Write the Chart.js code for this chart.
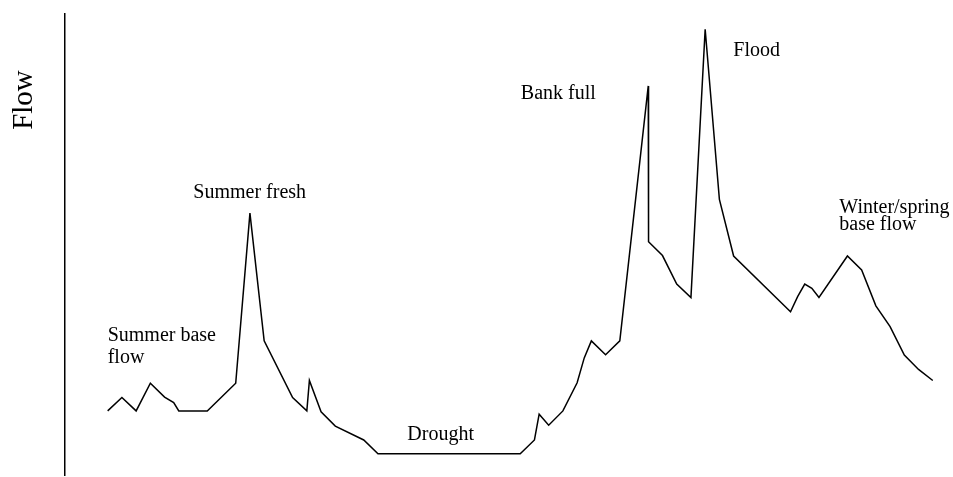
<!DOCTYPE html>
<html>
<head>
<meta charset="utf-8">
<script src="https://cdn.jsdelivr.net/npm/chart.js"></script>
<style>
  html, body { margin: 0; padding: 0; background: #fff; }
  #wrap { width: 953px; height: 477px; position: relative; }
</style>
</head>
<body>
<div id="wrap"><canvas id="flowChart"></canvas></div>
<script>
var steps = [0, 1, 2, 3, 4, 4.64, 5, 7, 9, 10, 11, 13, 14, 14.18, 15, 16, 18, 19,
  29, 30, 30.33, 31, 32, 33, 33.5, 34, 35, 36, 38, 38.02, 39, 40, 41, 42, 43, 44,
  48, 48.5, 49, 49.5, 50, 52, 53, 54, 55, 56, 57, 58];
var flows = [13.9, 16.8, 13.9, 19.9, 16.9, 15.7, 13.9, 13.9, 19.9, 56.8, 29.1, 16.8, 13.9, 20.5, 13.7, 10.6, 7.6, 4.6,
  4.6, 7.6, 13.2, 10.8, 13.9, 20.0, 25.4, 29.1, 26.1, 29.1, 84.4, 50.6, 47.6, 41.4, 38.5, 96.7, 59.8, 47.5,
  35.4, 38.7, 41.4, 40.5, 38.5, 47.5, 44.5, 36.7, 32.2, 26.0, 22.9, 20.5];

// annotation labels
var noteLabels = [
  ['Summer base', 'flow'],
  ['Summer fresh'],
  ['Drought'],
  ['Bank full'],
  ['Flood'],
  ['Winter/spring', 'base flow']
];
// where each label sits, in chart units (left edge, first baseline) and line spacing
var notePos = [
  { x: 0, y: 29.1, lh: 22 },
  { x: 6.02, y: 60.0, lh: 22 },
  { x: 21.06, y: 7.7, lh: 22 },
  { x: 29.04, y: 81.6, lh: 22 },
  { x: 43.98, y: 90.9, lh: 22 },
  { x: 51.43, y: 56.9, lh: 17 }
];

var serif = "'Liberation Serif', 'Times New Roman', serif";

var notesPlugin = {
  id: 'notes',
  afterDatasetsDraw: function (chart) {
    var ctx = chart.ctx;
    var xs = chart.scales.x, ys = chart.scales.y;
    ctx.save();
    ctx.fillStyle = '#000';
    ctx.font = '20px ' + serif;
    ctx.textAlign = 'left';
    ctx.textBaseline = 'alphabetic';
    noteLabels.forEach(function (lines, i) {
      var p = notePos[i];
      var px = xs.getPixelForValue(p.x);
      var py = ys.getPixelForValue(p.y);
      lines.forEach(function (t, j) {
        ctx.fillText(t, px, py + j * p.lh);
      });
    });
    // axis label
    var a = chart.chartArea;
    ctx.translate(a.left - 33, a.top + 86);
    ctx.rotate(-Math.PI / 2);
    ctx.font = '29px ' + serif;
    ctx.textAlign = 'center';
    ctx.fillText('Flow', 0, 0);
    ctx.restore();
  }
};

var ctx = document.getElementById('flowChart').getContext('2d');
var flowChart = new Chart(ctx, {
  type: 'line',
  data: {
    datasets: [{
      label: 'Flow',
      data: steps.map(function (s, i) { return { x: s, y: flows[i] }; }),
      borderColor: '#000',
      borderWidth: 1.5,
      pointRadius: 0,
      tension: 0,
      fill: false
    }]
  },
  options: {
    responsive: true,
    maintainAspectRatio: false,
    animation: false,
    layout: { padding: { left: 0, top: 14, right: 6, bottom: 2 } },
    plugins: {
      legend: { display: false },
      tooltip: { enabled: false }
    },
    scales: {
      x: {
        type: 'linear',
        min: -3,
        max: 59,
        display: false
      },
      y: {
        min: 0,
        max: 100,
        grid: { display: false },
        border: { display: true, color: '#000', width: 1.5 },
        ticks: { display: false },
        afterFit: function (scale) { scale.width = 65; }
      }
    }
  },
  plugins: [notesPlugin]
});
</script>
</body>
</html>
